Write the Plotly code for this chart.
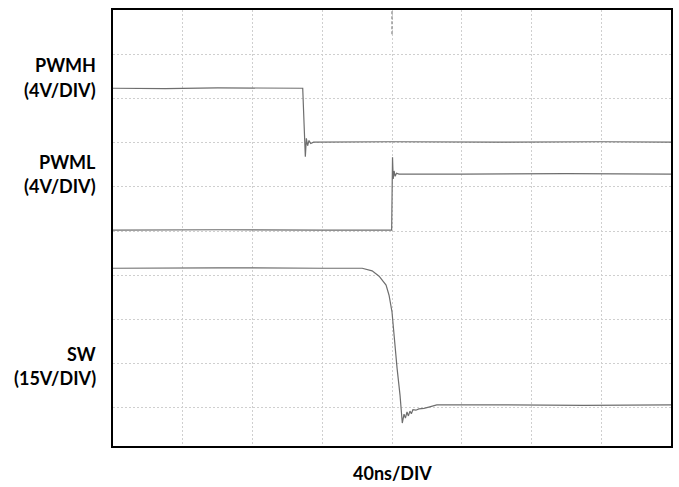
import plotly.graph_objects as go

# Time axis: 40 ns/DIV, 8 divisions; vertical axis in divisions
x_ticks = [0, 40, 80, 120, 160, 200, 240, 280, 320]
y_ticks = [1, 2, 3, 4, 5, 6, 7, 8, 9]

# PWMH trace (time ns, position in divisions)
pwmh_t = [0, 30, 60, 90, 108.8, 109.6, 110.3, 110.9, 111.6, 112.4, 113.4, 115, 160, 220, 280, 320]
pwmh_v = [8.23, 8.22, 8.24, 8.23, 8.23, 7.40, 6.68, 7.10, 6.93, 7.05, 6.98, 7.01, 7.02, 7.01, 7.02, 7.01]

# PWML trace
pwml_t = [0, 60, 120, 159.8, 160.3, 160.7, 161.2, 161.8, 162.6, 164, 200, 260, 320]
pwml_v = [5.02, 5.03, 5.02, 5.02, 6.67, 6.18, 6.36, 6.24, 6.31, 6.29, 6.29, 6.30, 6.29]

# SW trace
sw_t = [0, 60, 120, 142.9, 148.6, 152.6, 156.6, 158.3, 160.0, 160.6, 161.7, 162.9,
        164.6, 165.9, 166.9, 167.7, 168.6, 169.4, 170.3, 171.1, 172.0, 173.7, 175.4,
        178.3, 181.1, 184.0, 185.7, 220, 270, 320]
sw_v = [4.16, 4.17, 4.16, 4.16, 4.10, 3.98, 3.78, 3.55, 3.17, 2.88, 2.49, 1.90,
        1.29, 0.66, 0.86, 0.77, 0.91, 0.82, 0.93, 0.87, 0.96, 0.95, 0.98,
        0.99, 1.02, 1.05, 1.07, 1.07, 1.06, 1.07]

labels = [
    ("PWMH", 0.874), ("(4V/DIV)", 0.817),
    ("PWML", 0.651), ("(4V/DIV)", 0.596),
    ("SW", 0.211), ("(15V/DIV)", 0.156),
]
x_label = "40ns/DIV"

trace_color = "#6e6e6e"
fig = go.Figure()
for t, v in [(pwmh_t, pwmh_v), (pwml_t, pwml_v), (sw_t, sw_v)]:
    fig.add_trace(go.Scatter(x=t, y=v, mode="lines",
                             line=dict(color=trace_color, width=1.2),
                             showlegend=False, hoverinfo="skip"))

font = dict(family="Lato, Carlito, Calibri, sans-serif", size=18, color="#000000")
ann = []
for text, y in labels:
    ann.append(dict(text="<b>%s</b>" % text, xref="paper", yref="paper",
                    x=-0.027, y=y, xanchor="right", yanchor="middle",
                    showarrow=False, font=font))
ann.append(dict(text="<b>%s</b>" % x_label, xref="paper", yref="paper",
                x=0.5, y=-0.062, xanchor="center", yanchor="middle",
                showarrow=False, font=font))

fig.update_layout(
    width=679, height=487,
    margin=dict(l=113, r=6, t=10, b=41),
    paper_bgcolor="white", plot_bgcolor="white",
    annotations=ann,
    xaxis=dict(range=[0, 320], tickvals=x_ticks, showticklabels=False,
               showgrid=True, gridcolor="#cfcfcf", griddash="2px,2px", gridwidth=1,
               zeroline=False, showline=True, linecolor="black", linewidth=2, mirror=True,
               ticks=""),
    yaxis=dict(range=[0.14, 10.0], tickvals=y_ticks, showticklabels=False,
               showgrid=True, gridcolor="#cfcfcf", griddash="2px,2px", gridwidth=1,
               zeroline=False, showline=True, linecolor="black", linewidth=2, mirror=True,
               ticks=""),
)
# trigger marker at top of centre graticule line
fig.add_shape(type="line", xref="x", yref="y", x0=x_ticks[4], x1=x_ticks[4], y0=9.45, y1=10,
              line=dict(color="#9a9a9a", width=1.5, dash="3px,2px"))

fig.write_html("out.html", config={"displayModeBar": False},
               post_script="document.body.style.margin='0';document.body.style.overflow='hidden';")
